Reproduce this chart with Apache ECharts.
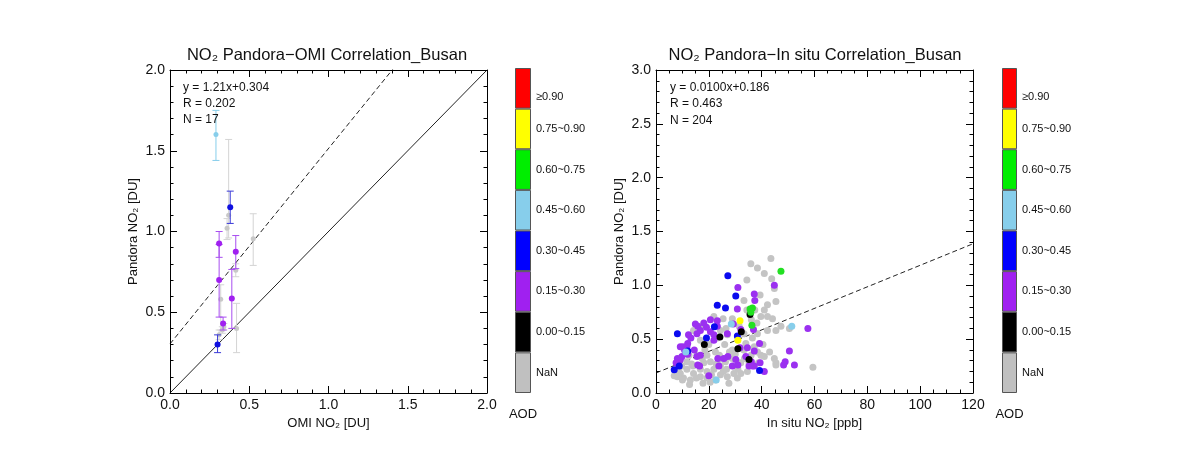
<!DOCTYPE html>
<html><head><meta charset="utf-8">
<script src="https://cdn.jsdelivr.net/npm/echarts@6/dist/echarts.min.js"></script>
<style>html,body{margin:0;padding:0;background:#fff}#c{width:1193px;height:455px}</style>
</head><body><div id="c"></div><script>
// ---------- DATA ----------
var aodClasses = ['NaN','0.00~0.15','0.15~0.30','0.30~0.45','0.45~0.60','0.60~0.75','0.75~0.90','\u22650.90'];
var aodColors  = ['#c0c0c0','#000000','#a020f0','#0000ff','#87ceeb','#00ee00','#ffff00','#ff0000'];

var leftTitle  = 'NO\u2082 Pandora\u2212OMI Correlation_Busan';
var rightTitle = 'NO\u2082 Pandora\u2212In situ Correlation_Busan';
var leftXName  = 'OMI NO\u2082 [DU]';
var rightXName = 'In situ NO\u2082 [ppb]';
var yName      = 'Pandora NO\u2082 [DU]';
var leftStats  = ['y = 1.21x+0.304','R = 0.202','N = 17'];
var rightStats = ['y = 0.0100x+0.186','R = 0.463','N = 204'];
var leftFit  = [1.21, 0.304];
var rightFit = [0.0100, 0.186];

// left panel: [OMI, Pandora, low, high] per AOD class
var omiNaN = [[0.37,1.10,0.96,1.57],[0.32,0.58,0.39,0.67],[0.415,0.76,0.72,0.80],[0.42,0.40,0.25,0.555],
              [0.525,0.955,0.79,1.11],[0.33,0.39,0.37,0.41],[0.36,1.02,0.95,1.08],[0.31,0.36,0.33,0.39],[0.34,0.41,0.39,0.43]];
var omiPurple = [[0.31,0.925,0.84,1.00],[0.31,0.70,0.47,0.92],[0.335,0.43,0.39,0.47],[0.415,0.875,0.77,0.975],[0.39,0.585,0.40,0.765]];
var omiBlue   = [[0.38,1.15,1.05,1.25],[0.30,0.30,0.25,0.36]];
var omiLBlue  = [[0.29,1.60,1.44,1.75]];

// right panel: [in situ ppb, Pandora DU] per AOD class
var insNaN = [[35.9,1.20],[38.4,1.16],[43.5,1.25],[41.0,1.11],[43.8,1.06],[34.4,1.05],[44.8,0.97],[45.4,0.85],[42.2,0.82],[39.4,0.91],
  [33.3,0.86],[34.4,0.77],[39.7,0.71],[42.2,0.71],[44.1,0.69],[41.0,0.77],[37.4,0.77],[36.1,0.68],[38.2,0.65],[47.3,0.62],
  [50.5,0.60],[45.4,0.58],[42.2,0.58],[38.4,0.55],[36.5,0.51],[33.3,0.55],[28.9,0.69],[25.4,0.69],[21.9,0.71],[16.8,0.62],
  [14.2,0.58],[24.4,0.58],[27.0,0.54],[23.2,0.51],[20.0,0.45],[16.8,0.49],[11.1,0.42],[15.5,0.35],[19.3,0.35],[22.5,0.38],
  [26.0,0.45],[28.9,0.40],[33.3,0.40],[37.2,0.43],[39.7,0.35],[41.0,0.34],[38.4,0.38],[44.8,0.32],[45.4,0.28],[35.2,0.28],
  [32.1,0.28],[29.5,0.25],[26.7,0.22],[24.4,0.25],[21.9,0.22],[19.3,0.20],[16.8,0.22],[14.2,0.18],[11.7,0.22],[9.2,0.18],
  [8.1,0.15],[10.4,0.14],[12.7,0.08],[16.8,0.15],[19.3,0.14],[22.5,0.12],[24.4,0.17],[27.0,0.15],[29.5,0.18],[32.1,0.18],
  [34.6,0.20],[59.4,0.24],[45.4,0.26],[15.3,0.14],[14.0,0.25],[18.1,0.28],[20.6,0.29],[23.8,0.31],[26.3,0.29],[28.9,0.32],
  [11.7,0.29],[9.8,0.25],[7.6,0.20],[6.9,0.16],[17.8,0.09],[27.6,0.09],[30.8,0.14],[13.0,0.12],[21.0,0.17],[25.5,0.20],
  [31.0,0.22],[36.0,0.35],[18.5,0.40],[12.5,0.35],[10.0,0.12],[40.5,0.45],[20.5,0.10],[30.0,0.36],[34.0,0.46],[27.8,0.38],
  [24.0,0.35],[17.5,0.32],[13.5,0.27],[8.5,0.22],[22.8,0.27],[33.5,0.32],[38.8,0.28],[43.0,0.38],[26.5,0.60],[31.5,0.62]];
var insBlack  = [[35.6,0.73],[32.3,0.57],[24.2,0.52],[18.3,0.45],[31.0,0.41],[35.2,0.31]];
var insPurple = [[9.2,0.43],[10.2,0.43],[12.0,0.46],[14.9,0.64],[15.8,0.62],[15.5,0.55],[19.1,0.61],[13.2,0.51],[11.7,0.43],[14.5,0.40],
  [12.0,0.36],[8.1,0.32],[9.2,0.31],[9.8,0.34],[8.7,0.30],[7.6,0.28],[15.5,0.34],[15.8,0.26],[16.8,0.35],[16.5,0.25],
  [20.0,0.16],[23.8,0.25],[23.4,0.32],[23.2,0.67],[20.6,0.57],[21.9,0.54],[31.0,0.98],[30.8,0.78],[29.3,0.64],[37.2,0.92],
  [37.4,0.86],[36.9,0.59],[37.2,0.25],[36.1,0.29],[37.2,0.39],[39.2,0.46],[39.4,0.28],[36.5,0.25],[41.0,0.20],[44.8,1.00],
  [48.3,0.26],[50.5,0.39],[48.9,0.29],[52.4,0.26],[57.5,0.60],[34.0,0.34],[34.6,0.42],[31.8,0.42],[31.0,0.26],[27.2,0.34],
  [25.7,0.32],[27.0,0.55],[30.2,0.31],[32.1,0.59],[23.2,0.62],[21.9,0.49],[18.1,0.65],[12.3,0.54],[16.8,0.58],[35.2,0.25],
  [28.9,0.25],[20.6,0.68],[8.4,0.27],[10.8,0.40]];
var insBlue   = [[27.2,1.09],[8.1,0.55],[23.2,0.815],[26.3,0.79],[30.2,0.90],[22.1,0.615],[19.1,0.51],[6.9,0.215],[30.8,0.53],[39.2,0.21],
  [12.0,0.39],[8.8,0.25]];
var insLBlue  = [[51.4,0.62],[28.5,0.64],[22.8,0.12],[11.3,0.38]];
var insGreen  = [[47.3,1.13],[35.6,0.78],[36.5,0.79],[35.9,0.75],[36.3,0.63]];
var insYellow = [[31.8,0.67],[31.0,0.49]];

// ---------- CHART ----------
var FONT = 'Liberation Sans, Arial, Helvetica, sans-serif';
var chart = echarts.init(document.getElementById('c'), null, {renderer:'canvas'});

function frameAxis(type, grid, pos, min, max, interval, minorSplit, showLabel, fmt, name, nameGap) {
  var a = {
    type:'value', gridIndex:grid, position:pos, min:min, max:max, interval:interval,
    axisLine:{show:true, onZero:false, lineStyle:{color:'#000', width:1}},
    axisTick:{show:true, inside:true, length:7, lineStyle:{color:'#000', width:1}},
    minorTick:{show:true, splitNumber:minorSplit, length:3.5, lineStyle:{color:'#000', width:1}},
    splitLine:{show:false}, minorSplitLine:{show:false},
    axisLabel:{show:showLabel, color:'#111', fontSize:14, fontFamily:FONT, margin:5, formatter:fmt},
    z:5
  };
  if (name) {
    a.name = name; a.nameLocation = 'middle'; a.nameGap = nameGap;
    a.nameTextStyle = {color:'#111', fontSize:13, fontFamily:FONT};
  }
  return a;
}
var f1 = function(v){ return v.toFixed(1); };
var f0 = function(v){ return String(Math.round(v)); };

function cbarX(grid) {
  return {type:'value', gridIndex:grid, min:0, max:1, show:true,
    axisLine:{show:false}, axisTick:{show:false}, axisLabel:{show:false}, splitLine:{show:false},
    name:'AOD', nameLocation:'middle', nameGap:15,
    nameTextStyle:{color:'#111', fontSize:13, fontFamily:FONT}};
}
function cbarY(grid) {
  return {type:'category', gridIndex:grid, position:'right', data:aodClasses,
    axisLine:{show:false}, axisTick:{show:false}, splitLine:{show:false},
    axisLabel:{show:true, color:'#111', fontSize:11, fontFamily:FONT, margin:5,
      formatter:function(v, i){ return i === aodClasses.length-1 ? '{low|'+v+'}' : v; },
      rich:{low:{fontSize:11, fontFamily:FONT, color:'#111', padding:[18,0,0,0]}}}};
}

function errSeries(data, color, xi, yi, z) {
  return {
    type:'custom', xAxisIndex:xi, yAxisIndex:yi, z:z, silent:true,
    data:data.map(function(d){ return [d[0], d[2], d[3]]; }),
    renderItem:function(params, api){
      var x = api.value(0), p1 = api.coord([x, api.value(1)]), p2 = api.coord([x, api.value(2)]);
      var w = 3.5, st = {stroke:color, lineWidth:1};
      return {type:'group', children:[
        {type:'line', shape:{x1:p1[0], y1:p1[1], x2:p2[0], y2:p2[1]}, style:st},
        {type:'line', shape:{x1:p1[0]-w, y1:p1[1], x2:p1[0]+w, y2:p1[1]}, style:st},
        {type:'line', shape:{x1:p2[0]-w, y1:p2[1], x2:p2[0]+w, y2:p2[1]}, style:st}
      ]};
    }
  };
}
function ptSeries(data, color, xi, yi, size, z) {
  return {type:'scatter', xAxisIndex:xi, yAxisIndex:yi, z:z, silent:true, symbolSize:size,
    data:data.map(function(d){ return [d[0], d[1]]; }),
    itemStyle:{color:color, opacity:1}};
}
function lineSeries(p, q, xi, yi, dashed) {
  return {type:'line', xAxisIndex:xi, yAxisIndex:yi, data:[p, q], symbol:'none', silent:true, z:3,
    lineStyle:{color:'#222', width:1, type: dashed ? [5,3] : 'solid'}, clip:true};
}
function cbarSeries(xi, yi) {
  return {type:'bar', xAxisIndex:xi, yAxisIndex:yi, barWidth:'100%', silent:true,
    data:aodColors.map(function(c){ return {value:1, itemStyle:{color:c}}; }),
    itemStyle:{borderColor:'#555', borderWidth:1}};
}

var option = {
  backgroundColor:'#fff',
  animation:false,
  textStyle:{fontFamily:FONT},
  title:[
    {text:leftTitle, left:327, top:47, textAlign:'center', padding:0,
      textStyle:{fontSize:16.5, fontWeight:'normal', color:'#111', fontFamily:FONT}},
    {text:rightTitle, left:815, top:47, textAlign:'center', padding:0,
      textStyle:{fontSize:16.5, fontWeight:'normal', color:'#111', fontFamily:FONT}},
    {text:leftStats.join('\n'), left:183, top:80, padding:0,
      textStyle:{fontSize:12, fontWeight:'normal', color:'#111', lineHeight:16, fontFamily:FONT}},
    {text:rightStats.join('\n'), left:670, top:79, padding:0,
      textStyle:{fontSize:12, fontWeight:'normal', color:'#111', lineHeight:16.5, fontFamily:FONT}}
  ],
  grid:[
    {left:170, top:70, width:317, height:323},
    {left:515, top:68, width:16, height:325},
    {left:656, top:70, width:317, height:323},
    {left:1002, top:68, width:15, height:325}
  ],
  xAxis:[
    frameAxis('x',0,'bottom',0,2,0.5,5,true,f1,leftXName,20),
    frameAxis('x',0,'top',0,2,0.5,5,false,f1),
    cbarX(1),
    frameAxis('x',2,'bottom',0,120,20,4,true,f0,rightXName,20),
    frameAxis('x',2,'top',0,120,20,4,false,f0),
    cbarX(3)
  ],
  yAxis:[
    frameAxis('y',0,'left',0,2,0.5,5,true,f1,yName,30),
    frameAxis('y',0,'right',0,2,0.5,5,false,f1),
    cbarY(1),
    frameAxis('y',2,'left',0,3,0.5,5,true,f1,yName,30),
    frameAxis('y',2,'right',0,3,0.5,5,false,f1),
    cbarY(3)
  ],
  series:[
    lineSeries([0,0],[2,2],0,0,false),
    lineSeries([0,leftFit[1]],[2,leftFit[0]*2+leftFit[1]],0,0,true),
    errSeries(omiNaN,'#d4d4d4',0,0,4),
    ptSeries(omiNaN,'#c8c8c8',0,0,5,5),
    errSeries(omiPurple,'#a84ef0',0,0,6),
    errSeries(omiBlue,'#3a3ad8',0,0,6),
    errSeries(omiLBlue,'#87ceeb',0,0,6),
    ptSeries(omiPurple,'#a020f0',0,0,6,7),
    ptSeries(omiBlue,'#1010e0',0,0,6,7),
    ptSeries(omiLBlue,'#87ceeb',0,0,5,7),
    cbarSeries(2,2),
    lineSeries([0,rightFit[1]],[120,rightFit[0]*120+rightFit[1]],3,3,true),
    ptSeries(insNaN,'#c4c4c4',3,3,7,4),
    ptSeries(insPurple,'#9b30f0',3,3,7,5),
    ptSeries(insBlue,'#0a0aef',3,3,7,5),
    ptSeries(insBlack,'#000000',3,3,7,5),
    ptSeries(insLBlue,'#87ceeb',3,3,7,5),
    ptSeries(insGreen,'#22e022',3,3,7,5),
    ptSeries(insYellow,'#ffff00',3,3,7,5),
    cbarSeries(5,5)
  ]
};
chart.setOption(option);
</script></body></html>
